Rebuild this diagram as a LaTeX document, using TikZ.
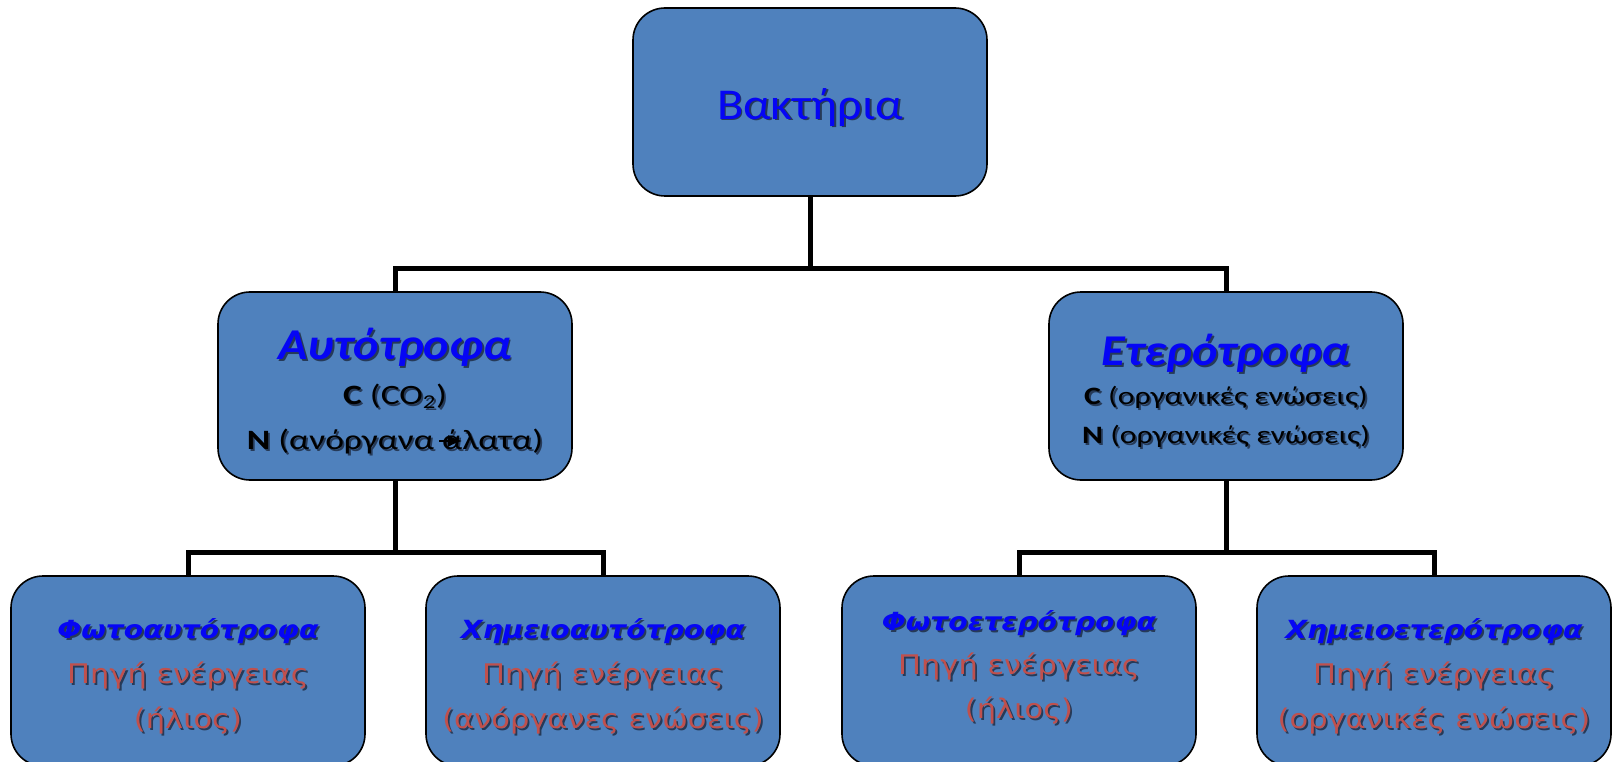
\documentclass[tikz,border=0pt]{standalone}
\usepackage{fontspec}
\setmainfont{Carlito}
\newfontfamily\titlefont{Carlito}[FakeStretch=1.1]
\newfontfamily\linefont{Carlito}[FakeStretch=1.27]
\newfontfamily\verdfont{DejaVu Sans}[FakeStretch=1.13]
\usetikzlibrary{arrows.meta}
\definecolor{boxblue}{RGB}{79,129,189}
\definecolor{titleblue}{RGB}{5,5,245}
\definecolor{energyred}{RGB}{192,80,77}
\definecolor{shadowc}{RGB}{38,58,88}
\newcommand\shtext[2]{{\rlap{\kern1.8pt\raisebox{-1.8pt}{\color{shadowc}#2}}\textcolor{#1}{#2}}}

\tikzset{
	box/.style={draw=black, line width=1.6pt, fill=boxblue, rounded corners=32pt, minimum width=354pt, minimum height=188pt, inner sep=0pt},
	link/.style={line width=5pt},
	txt/.style={align=center, inner sep=0pt}
}

\begin{document}
\begin{tikzpicture}[x=1pt, y=-1pt]

	\useasboundingbox (0,0) rectangle (1612,762);

	% Drawing the boxes
	\node [box] (bakteria) at (810,102) {\titlefont\fontsize{44}{50}\selectfont\raisebox{-6pt}[\height][\depth]{\shtext{titleblue}{Βακτήρια}}};
	\node [box] (autotrofa) at (395,386) {};
	\node [box] (eterotrofa) at (1226,386) {};
	\node [box, minimum height=190pt] (fotoauto) at (188,671) {};
	\node [box, minimum height=190pt] (ximeioauto) at (603,671) {};
	\node [box, minimum height=190pt] (fotoetero) at (1019,671) {};
	\node [box, minimum height=190pt] (ximeioetero) at (1434,671) {};

	% Texts of the second row
	\node [txt, font=\linefont\fontsize{28}{45}\selectfont] (autotrofa-txt) at (395,392) {%
		{\titlefont\fontsize{44}{45}\selectfont\shtext{titleblue}{\textbf{\textit{Αυτότροφα}}}}\\
		\shtext{black}{\textbf{C} (CO\textsubscript{2})}\\
		\shtext{black}{\textbf{N} (ανόργανα άλατα)}};
	\node [txt, font=\linefont\fontsize{25}{39}\selectfont] (eterotrofa-txt) at (1226,392) {%
		{\titlefont\fontsize{44}{39}\selectfont\shtext{titleblue}{\textbf{\textit{Ετερότροφα}}}}\\
		\shtext{black}{\textbf{C} (οργανικές ενώσεις)}\\
		\shtext{black}{\textbf{N} (οργανικές ενώσεις)}};

	% Texts of the third row
	\node [txt, font=\verdfont\fontsize{27}{45}\selectfont] (fotoauto-txt) at (188,677) {%
		{\fontsize{25}{46}\selectfont\shtext{titleblue}{\textbf{\textit{Φωτοαυτότροφα}}}}\\
		\shtext{energyred}{Πηγή ενέργειας}\\
		\shtext{energyred}{(ήλιος)}};
	\node [txt, font=\verdfont\fontsize{27}{45}\selectfont] (ximeioauto-txt) at (603,677) {%
		{\fontsize{25}{46}\selectfont\shtext{titleblue}{\textbf{\textit{Χημειοαυτότροφα}}}}\\
		\shtext{energyred}{Πηγή ενέργειας}\\
		\shtext{energyred}{(ανόργανες ενώσεις)}};
	\node [txt, font=\verdfont\fontsize{27}{44}\selectfont] (fotoetero-txt) at (1019,668) {%
		{\fontsize{25}{44}\selectfont\shtext{titleblue}{\textbf{\textit{Φωτοετερότροφα}}}}\\
		\shtext{energyred}{Πηγή ενέργειας}\\
		\shtext{energyred}{(ήλιος)}};
	\node [txt, font=\verdfont\fontsize{27}{45}\selectfont] (ximeioetero-txt) at (1434,677) {%
		{\fontsize{25}{46}\selectfont\shtext{titleblue}{\textbf{\textit{Χημειοετερότροφα}}}}\\
		\shtext{energyred}{Πηγή ενέργειας}\\
		\shtext{energyred}{(οργανικές ενώσεις)}};

	% Drawing the connectors
	\coordinate (split-top) at (810,268);
	\coordinate (split-auto) at (395,552);
	\coordinate (split-etero) at (1226,552);
	\draw [link] (bakteria.south) -- (split-top);
	\draw [link] (autotrofa.north) |- (split-top) -| (eterotrofa.north);
	\draw [link] (autotrofa.south) -- (split-auto);
	\draw [link] (fotoauto.north) |- (split-auto) -| (ximeioauto.north);
	\draw [link] (eterotrofa.south) -- (split-etero);
	\draw [link] (fotoetero.north) |- (split-etero) -| (ximeioetero.north);

	% Stray arrow over the salts
	\coordinate (salt-a) at (439,441);
	\coordinate (salt-b) at (462,441);
	\draw [-{Latex[length=14pt,width=12pt]}, line width=1.5pt] (salt-a) -- (salt-b);

\end{tikzpicture}
\end{document}
